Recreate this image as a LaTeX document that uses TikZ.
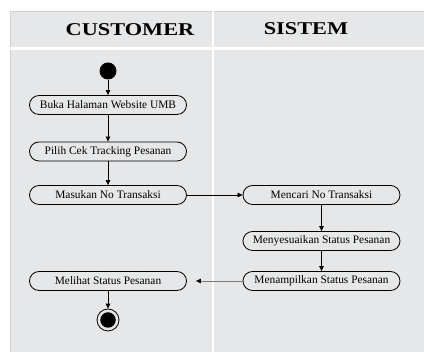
\documentclass[tikz,border=0pt]{standalone}
\usepackage{fontspec}
\setmainfont{Liberation Serif}
\usetikzlibrary{arrows.meta}
\definecolor{lanebg}{HTML}{E6E7E8}
\definecolor{laneedge}{HTML}{CFD0D1}
\definecolor{returnline}{HTML}{7A7A7A}
\begin{document}
\begin{tikzpicture}[x=1pt,y=-1pt,
  activity/.style={draw=black, line width=0.8pt, fill=lanebg, rounded corners=9.5pt,
    minimum width=157pt, minimum height=19pt, inner sep=0pt,
    font=\fontsize{11.4}{13}\selectfont},
  flow/.style={line width=0.7pt, -{Triangle[length=5pt,width=4.5pt,black]}},
  lanehead/.style={font=\bfseries\fontsize{18}{20}\selectfont, inner sep=0pt},
]
\useasboundingbox (0,0) rectangle (424,352);
% swimlane background and separators
\fill[lanebg] (10,11) rectangle (424,352);
\draw[laneedge, line width=0.6pt] (10.3,352) -- (10.3,11.3) -- (424,11.3);
\draw[white, line width=3pt] (10,48.5) -- (424,48.5);
\draw[white, line width=2.5pt] (213,11) -- (213,352);
% lane titles
\node[lanehead] (hcust) at (130,30) {\scalebox{1.24}[1]{CUSTOMER}};
\node[lanehead] (hsys) at (306,28.5) {\scalebox{1.24}[1]{SISTEM}};
% customer lane
\node[circle, fill=black, minimum size=17pt, inner sep=0pt] (start) at (108,71) {};
\node[activity] (buka) at (108,105) {Buka Halaman Website UMB};
\node[activity] (pilih) at (108,151.5) {Pilih Cek Tracking Pesanan};
\node[activity] (masuk) at (108,195) {Masukan No Transaksi};
\node[activity] (lihat) at (108,281) {Melihat Status Pesanan};
\node[circle, draw=black, line width=0.8pt, fill=lanebg, minimum size=22pt, inner sep=0pt] (endring) at (108,320) {};
\node[circle, fill=black, minimum size=15.5pt, inner sep=0pt] (enddot) at (endring.center) {};
% system lane
\node[activity] (cari) at (321.5,195) {Mencari No Transaksi};
\node[activity] (sesuai) at (321.5,241) {Menyesuaikan Status Pesanan};
\node[activity] (tampil) at (321.5,281) {Menampilkan Status Pesanan};
% control flow
\draw[flow] (start) -- (buka);
\draw[flow] (buka) -- (pilih);
\draw[flow] (pilih) -- (masuk);
\draw[flow] (masuk) -- (cari);
\draw[flow] (cari) -- (sesuai);
\draw[flow] (sesuai) -- (tampil);
\draw[flow, draw=returnline, shorten >=9pt] (tampil) -- (lihat);
\draw[flow] (lihat) -- (endring);
\end{tikzpicture}
\end{document}
